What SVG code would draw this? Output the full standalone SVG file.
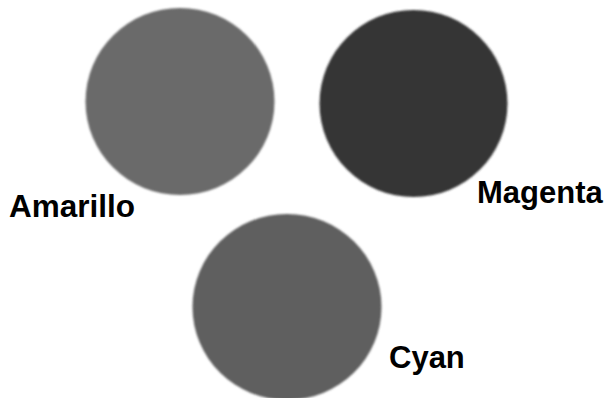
<svg xmlns="http://www.w3.org/2000/svg" width="609" height="398" viewBox="0 0 609 398">
<defs>
<style>
.lbl{font-family:"Liberation Sans",Arial,sans-serif;font-weight:bold;font-size:31px;fill:#000}
</style>
<filter id="soft" x="-5%" y="-5%" width="110%" height="110%"><feGaussianBlur stdDeviation="0.8"/></filter>
</defs>
<rect width="609" height="398" fill="#fff"/>
<g id="amarillo">
<ellipse cx="180" cy="101.5" rx="94.5" ry="93.5" fill="#6a6a6a" filter="url(#soft)"/>
<text class="lbl" x="9" y="217" style="font-size:31.5px">Amarillo</text>
</g>
<g id="magenta">
<ellipse cx="413.5" cy="103.5" rx="94" ry="93.5" fill="#363636" filter="url(#soft)"/>
<text class="lbl" x="477" y="203">Magenta</text>
</g>
<g id="cyan">
<ellipse cx="287" cy="307" rx="94.5" ry="93" fill="#5f5f5f" filter="url(#soft)"/>
<text class="lbl" x="389" y="368">Cyan</text>
</g>
<g id="connectors"/>
</svg>
